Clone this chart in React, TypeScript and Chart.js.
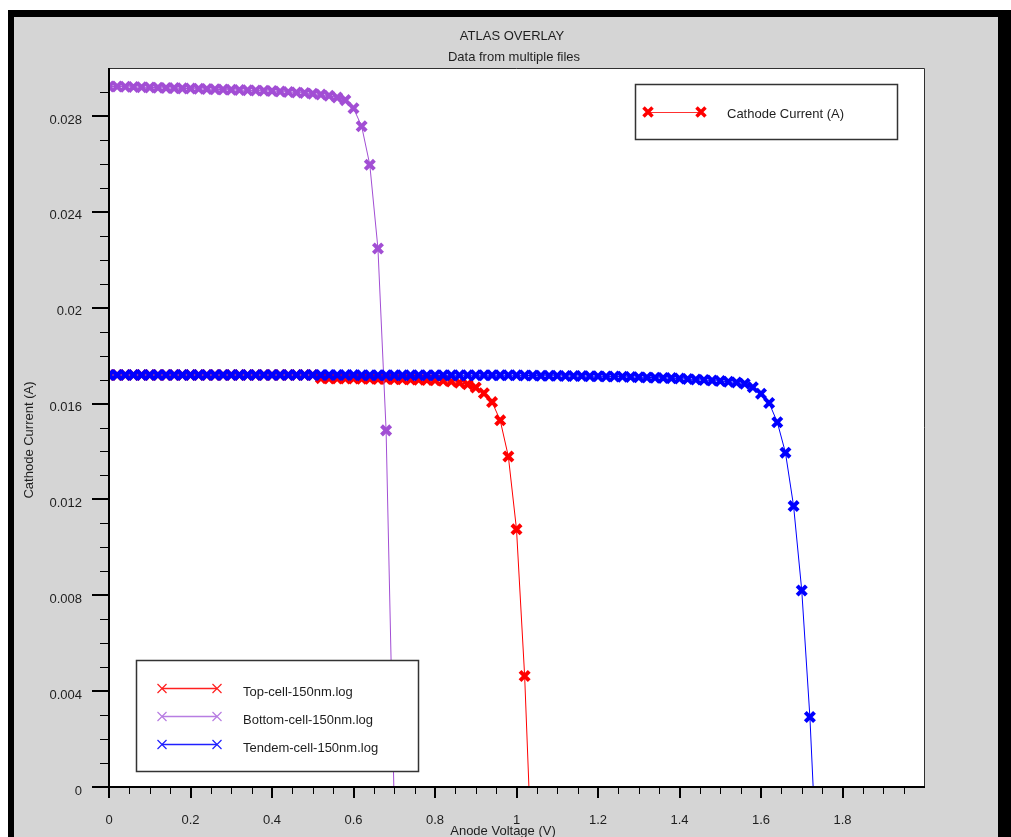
import React, { useEffect, useRef } from "react";
import { Chart, registerables } from "chart.js";

Chart.register(...registerables);

// ---------- data ----------
const voltage = [
  0.0, 0.02, 0.04, 0.06, 0.08, 0.1, 0.12, 0.14, 0.16, 0.18,
  0.2, 0.22, 0.24, 0.26, 0.28, 0.3, 0.32, 0.34, 0.36, 0.38,
  0.4, 0.42, 0.44, 0.46, 0.48, 0.5, 0.52, 0.54, 0.56, 0.58,
  0.6, 0.62, 0.64, 0.66, 0.68, 0.7, 0.72, 0.74, 0.76, 0.78,
  0.8, 0.82, 0.84, 0.86, 0.88, 0.9, 0.92, 0.94, 0.96, 0.98,
  1.0, 1.02, 1.04, 1.06, 1.08, 1.1, 1.12, 1.14, 1.16, 1.18,
  1.2, 1.22, 1.24, 1.26, 1.28, 1.3, 1.32, 1.34, 1.36, 1.38,
  1.4, 1.42, 1.44, 1.46, 1.48, 1.5, 1.52, 1.54, 1.56, 1.58,
  1.6, 1.62, 1.64, 1.66, 1.68, 1.7, 1.72, 1.74,
];

// Top-cell-150nm.log (0.00 .. 1.04 V)
const topCellCurrent = [
  0.01719, 0.01719, 0.01719, 0.01719, 0.01719, 0.01719, 0.01719, 0.01719, 0.01719, 0.01719,
  0.01719, 0.01719, 0.01719, 0.01719, 0.01719, 0.01719, 0.01719, 0.01719, 0.01719, 0.01719,
  0.01719, 0.01719, 0.01719, 0.01719, 0.01719, 0.01719,
  0.01706, 0.01705, 0.01705, 0.01704, 0.01704, 0.01703, 0.01703, 0.01702, 0.01702, 0.01701,
  0.01701, 0.017, 0.01699, 0.01698, 0.01697,
  0.01695, 0.01692, 0.01687, 0.0168, 0.01667, 0.01643, 0.01606, 0.0153, 0.01379, 0.01075,
  0.00463, -0.0042,
];

// Bottom-cell-150nm.log (0.00 .. 0.70 V)
const bottomCellCurrent = [
  0.02923, 0.02923, 0.02922, 0.02921, 0.0292, 0.02919, 0.02918, 0.02917, 0.02916, 0.02915,
  0.02914, 0.02913, 0.02912, 0.02911, 0.0291, 0.02909, 0.02908, 0.02907, 0.02906, 0.02905,
  0.02904, 0.02902, 0.029, 0.02898, 0.02896, 0.02893, 0.02889, 0.02884, 0.02877, 0.02866,
  0.02832, 0.02757, 0.02596, 0.02247, 0.01488, -0.0008,
];

// Tendem-cell-150nm.log (0.00 .. 1.74 V)
const tandemCellCurrent = [
  0.01719, 0.01719, 0.01719, 0.01719, 0.01719, 0.01719, 0.01719, 0.01719, 0.01719, 0.01719,
  0.01719, 0.01719, 0.01719, 0.01719, 0.01719, 0.01719, 0.01719, 0.01719, 0.01719, 0.01719,
  0.01719, 0.01719, 0.01719, 0.01719, 0.01719, 0.01719, 0.01719, 0.01719, 0.01719, 0.01719,
  0.01719,
  0.01718, 0.01718, 0.01718, 0.01718, 0.01718, 0.01718, 0.01718, 0.01718, 0.01718, 0.01718,
  0.01718, 0.01718, 0.01718, 0.01718, 0.01718, 0.01718, 0.01718, 0.01718, 0.01718, 0.01718,
  0.01717, 0.01717, 0.01716, 0.01716, 0.01716, 0.01715, 0.01715, 0.01715, 0.01714, 0.01714,
  0.01713, 0.01713, 0.01712, 0.01711, 0.0171, 0.01709, 0.01708, 0.01707, 0.01706, 0.01704,
  0.01702, 0.017, 0.01698, 0.01696, 0.01694, 0.01691, 0.01688,
  0.01683, 0.01668, 0.01641, 0.01602, 0.01522, 0.01395, 0.01172, 0.0082, 0.00292, -0.0044,
];

const seriesNames = ["Top-cell-150nm.log", "Bottom-cell-150nm.log", "Tendem-cell-150nm.log"];
const seriesColors = ["#ff0000", "#a24ed4", "#0000ff"];
const legendLineColors = ["#ff2020", "#b77de2", "#2020ff"];

const titleText = "ATLAS OVERLAY";
const subtitleText = "Data from multiple files";
const xAxisTitle = "Anode Voltage (V)";
const yAxisTitle = "Cathode Current (A)";
const topLegendLabel = "Cathode Current (A)";

const xMin = 0;
const xMax = 2.0;
const xMajorStep = 0.2;
const xMinorStep = 0.05;
const yMin = 0;
const yMax = 0.03;
const yMajorStep = 0.004;
const yMinorStep = 0.001;

// ---------- helpers ----------
const W = 1011;
const H = 837;
const FONT = "13px 'Liberation Sans', Arial, sans-serif";
const TEXT = "#1e1e1e";
const GRAY = "#d5d5d5";

const fmt = (v: number) => String(parseFloat(v.toFixed(4)));

function pts(xs: number[], ys: number[]) {
  return ys.map((y, i) => ({ x: xs[i], y }));
}

function drawX(ctx: CanvasRenderingContext2D, x: number, y: number, r: number, lw: number, color: string) {
  ctx.save();
  ctx.strokeStyle = color;
  ctx.lineWidth = lw;
  ctx.beginPath();
  ctx.moveTo(x - r, y - r);
  ctx.lineTo(x + r, y + r);
  ctx.moveTo(x - r, y + r);
  ctx.lineTo(x + r, y - r);
  ctx.stroke();
  ctx.restore();
}

const decorPlugin = {
  id: "decor",
  beforeDraw(chart: any) {
    const ctx: CanvasRenderingContext2D = chart.ctx;
    const { left, right, top, bottom } = chart.chartArea;
    ctx.save();
    ctx.fillStyle = "#ffffff";
    ctx.fillRect(0, 0, W, H);
    ctx.fillStyle = GRAY;
    ctx.fillRect(14, 17, 984, H - 17);
    ctx.fillStyle = "#000000";
    ctx.fillRect(8, 10, W - 8, 7);
    ctx.fillRect(8, 10, 6, H - 10);
    ctx.fillRect(998, 10, W - 998, H - 10);
    ctx.fillStyle = "#ffffff";
    ctx.fillRect(left, top, right - left, bottom - top);
    ctx.restore();
  },
  afterDraw(chart: any) {
    const ctx: CanvasRenderingContext2D = chart.ctx;
    const { left, right, top, bottom } = chart.chartArea;
    const xs = chart.scales.x;
    const ys = chart.scales.y;
    ctx.save();

    // plot frame
    ctx.strokeStyle = "#303030";
    ctx.lineWidth = 1;
    ctx.beginPath();
    ctx.moveTo(left, top + 0.5);
    ctx.lineTo(right + 0.5, top + 0.5);
    ctx.lineTo(right + 0.5, bottom);
    ctx.stroke();

    // axes
    ctx.strokeStyle = "#000000";
    ctx.lineWidth = 2;
    ctx.beginPath();
    ctx.moveTo(left, top);
    ctx.lineTo(left, bottom + 1);
    ctx.moveTo(left - 1, bottom);
    ctx.lineTo(right + 1, bottom);
    ctx.stroke();

    // y ticks
    const nY = Math.round((yMax - yMin) / yMinorStep);
    const yPer = Math.round(yMajorStep / yMinorStep);
    for (let i = 0; i < nY; i++) {
      const v = yMin + i * yMinorStep;
      const py = Math.round(ys.getPixelForValue(v));
      const major = i % yPer === 0;
      ctx.lineWidth = major ? 2 : 1;
      ctx.beginPath();
      ctx.moveTo(left - (major ? 17 : 9), py + (major ? 0 : 0.5));
      ctx.lineTo(left, py + (major ? 0 : 0.5));
      ctx.stroke();
    }
    // x ticks
    const nX = Math.round((xMax - xMin) / xMinorStep);
    const xPer = Math.round(xMajorStep / xMinorStep);
    for (let i = 0; i < nX; i++) {
      const v = xMin + i * xMinorStep;
      const px = Math.round(xs.getPixelForValue(v));
      const major = i % xPer === 0;
      ctx.lineWidth = major ? 2 : 1;
      ctx.beginPath();
      ctx.moveTo(px + (major ? 0 : 0.5), bottom);
      ctx.lineTo(px + (major ? 0 : 0.5), bottom + (major ? 11 : 7));
      ctx.stroke();
    }

    // titles
    ctx.fillStyle = TEXT;
    ctx.font = FONT;
    ctx.textAlign = "center";
    ctx.textBaseline = "middle";
    ctx.fillText(titleText, 512, 36);
    ctx.fillText(subtitleText, 514, 57);
    ctx.fillText(xAxisTitle, 503, 831);
    ctx.save();
    ctx.translate(29, 440);
    ctx.rotate(-Math.PI / 2);
    ctx.fillText(yAxisTitle, 0, 0);
    ctx.restore();

    // top-right legend
    ctx.fillStyle = "#ffffff";
    ctx.fillRect(635, 84, 262, 55);
    ctx.strokeStyle = "#333333";
    ctx.lineWidth = 1.5;
    ctx.strokeRect(635.5, 84.5, 262, 55);
    ctx.strokeStyle = "#ff3030";
    ctx.lineWidth = 1;
    ctx.beginPath();
    ctx.moveTo(648, 112.5);
    ctx.lineTo(701, 112.5);
    ctx.stroke();
    drawX(ctx, 648, 112, 4.5, 3.5, "#ff0000");
    drawX(ctx, 701, 112, 4.5, 3.5, "#ff0000");
    ctx.fillStyle = TEXT;
    ctx.textAlign = "left";
    ctx.fillText(topLegendLabel, 727, 114);

    // bottom-left legend
    ctx.fillStyle = "#ffffff";
    ctx.fillRect(136, 660, 282, 111);
    ctx.strokeStyle = "#333333";
    ctx.lineWidth = 1.5;
    ctx.strokeRect(136.5, 660.5, 282, 111);
    const rowsY = [688.5, 716.5, 744.5];
    seriesNames.forEach((name, i) => {
      const y = rowsY[i];
      ctx.strokeStyle = legendLineColors[i];
      ctx.lineWidth = 1.3;
      ctx.beginPath();
      ctx.moveTo(162, y);
      ctx.lineTo(217, y);
      ctx.stroke();
      drawX(ctx, 162, y, 4.5, 1.2, legendLineColors[i]);
      drawX(ctx, 217, y, 4.5, 1.2, legendLineColors[i]);
      ctx.fillStyle = TEXT;
      ctx.fillText(name, 243, y + 3.5);
    });

    ctx.restore();
  },
};

export default function App() {
  const canvasRef = useRef<HTMLCanvasElement | null>(null);

  useEffect(() => {
    const canvas = canvasRef.current;
    if (!canvas) return;
    const mk = (label: string, data: any[], color: string) => ({
      label,
      data,
      borderColor: color,
      backgroundColor: color,
      borderWidth: 1,
      pointStyle: "crossRot" as const,
      pointRadius: 6.5,
      pointBorderWidth: 4,
      pointBorderColor: color,
      pointBackgroundColor: color,
      tension: 0,
      fill: false,
    });
    const chart = new Chart(canvas, {
      type: "line",
      data: {
        datasets: [
          mk(seriesNames[2], pts(voltage, tandemCellCurrent), seriesColors[2]),
          mk(seriesNames[1], pts(voltage, bottomCellCurrent), seriesColors[1]),
          mk(seriesNames[0], pts(voltage, topCellCurrent), seriesColors[0]),
        ],
      },
      options: {
        animation: false,
        responsive: false,
        devicePixelRatio: 1,
        events: [],
        layout: { padding: { top: 68, right: 87, left: 0, bottom: 0 } },
        plugins: {
          legend: { display: false },
          tooltip: { enabled: false },
          title: { display: false },
        },
        scales: {
          x: {
            type: "linear",
            min: xMin,
            max: xMax,
            afterFit: (s: any) => {
              s.height = 50;
            },
            grid: { display: false, drawTicks: false },
            border: { display: false },
            ticks: {
              stepSize: xMajorStep,
              padding: 26,
              autoSkip: false,
              maxRotation: 0,
              color: TEXT,
              font: { family: "'Liberation Sans', Arial, sans-serif", size: 13 },
              callback: (v: any) => (Number(v) > 1.9 ? "" : fmt(Number(v))),
            },
          },
          y: {
            type: "linear",
            min: yMin,
            max: yMax,
            afterFit: (s: any) => {
              s.width = 109;
            },
            grid: { display: false, drawTicks: false },
            border: { display: false },
            ticks: {
              stepSize: yMajorStep,
              padding: 27,
              labelOffset: 4,
              autoSkip: false,
              color: TEXT,
              font: { family: "'Liberation Sans', Arial, sans-serif", size: 13 },
              callback: (v: any) => (Number(v) > 0.0289 ? "" : fmt(Number(v))),
            },
          },
        },
      },
      plugins: [decorPlugin],
    });
    return () => chart.destroy();
  }, []);

  return (
    <div style={{ position: "fixed", left: 0, top: 0, width: W, height: H }}>
      <canvas ref={canvasRef} width={W} height={H} style={{ display: "block", width: W, height: H }} />
    </div>
  );
}
